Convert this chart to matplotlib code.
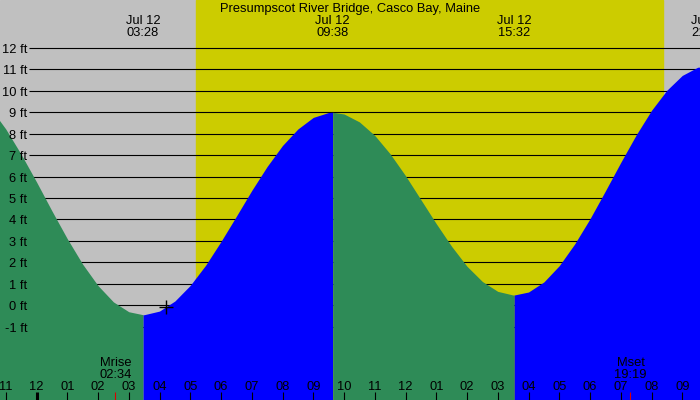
# Tide chart: Presumpscot River Bridge, Casco Bay, Maine - Jul 12
import numpy as np
import matplotlib.pyplot as plt
from matplotlib.transforms import offset_copy

plt.rcParams['font.family'] = ['Liberation Sans', 'DejaVu Sans']

######################  DATA ######################

# hours from midnight Jul 12, tide level (ft) every half hour
hours = [-1.5, -1.0, -0.5, 0.0, 0.5, 1.0, 1.5, 2.0, 2.5, 3.0,
         3.5, 4.0, 4.5, 5.0, 5.5, 6.0, 6.5, 7.0, 7.5, 8.0, 8.5, 9.0, 9.5,
         10.0, 10.5, 11.0, 11.5, 12.0, 12.5, 13.0, 13.5, 14.0, 14.5, 15.0, 15.5,
         16.0, 16.5, 17.0, 17.5, 18.0, 18.5, 19.0, 19.5, 20.0, 20.5, 21.0, 21.5, 22.0]
levels = [9.20, 8.22, 7.04, 5.75, 4.40, 3.10, 1.91, 0.91, 0.15, -0.31,
          -0.45, -0.28, 0.19, 0.92, 1.86, 2.97, 4.15, 5.35, 6.47, 7.45, 8.22, 8.76, 8.99,
          8.92, 8.55, 7.92, 7.06, 6.04, 4.92, 3.80, 2.74, 1.81, 1.10, 0.64, 0.47,
          0.61, 1.08, 1.84, 2.85, 4.03, 5.33, 6.66, 7.94, 9.09, 10.03, 10.72, 11.10, 11.16]

# high / low tides
tide_hours = [3 + 28/60, 9 + 38/60, 15 + 32/60, 21 + 50/60]
tide_levels = [-0.45, 9.0, 0.47, 11.17]
tide_clock = ['03:28', '09:38', '15:32', '21:50']
tide_day = 'Jul 12'

sunrise = 5 + 11/60
sunset = 20 + 22/60

moon_hours = [2 + 34/60, 19 + 19/60]
moon_names = ['Mrise', 'Mset']
moon_clock = ['02:34', '19:19']

now_hour = 4.22

hour_ticks = list(range(-1, 22))
hour_labels = ['11', '12', '01', '02', '03', '04', '05', '06', '07', '08', '09', '10',
               '11', '12', '01', '02', '03', '04', '05', '06', '07', '08', '09']

ft_ticks = list(range(-1, 13))

title = 'Presumpscot River Bridge, Casco Bay, Maine'

######################  PLOT ######################

GRAY = '#c0c0c0'
YELLOW = '#cccc00'
GREEN = '#2e8b57'
BLUE = '#0000ff'
FS = 9.3

x_lo, x_hi = -1.187, 21.577
y_lo, y_hi = -4.43, 14.24

t = np.array(hours + tide_hours[:3])
lv = np.array(levels + tide_levels[:3])
order = np.argsort(t)
t, lv = t[order], lv[order]

fig = plt.figure(figsize=(7, 4), dpi=100)
ax = fig.add_axes([0, 0, 1, 1])
ax.set_facecolor(GRAY)
ax.set_xlim(x_lo, x_hi)
ax.set_ylim(y_lo, y_hi)
ax.axis('off')
ax.add_patch(plt.Rectangle((x_lo, y_lo), x_hi - x_lo, y_hi - y_lo, color=GRAY, zorder=0))
ax.axvspan(sunrise, sunset, color=YELLOW, zorder=1)

# grid lines
ax.hlines(ft_ticks, -0.24, x_hi, color='black', lw=0.8, zorder=2)

# tide fill: green while falling, blue while rising
bounds = [-99] + tide_hours[:3] + [99]
for i in range(len(bounds) - 1):
    sel = (t >= bounds[i]) & (t <= bounds[i + 1])
    col = GREEN if i % 2 == 0 else BLUE
    ax.fill_between(t[sel], lv[sel], y_lo - 1, color=col, lw=0, zorder=3, antialiased=False)

ax.plot(now_hour, np.interp(now_hour, t, lv), marker='+', color='black', ms=10, mew=1, zorder=5)

# text a couple of pixels lower than bbox centre
ytr = offset_copy(ax.get_yaxis_transform(), fig=fig, y=-2, units='dots')
xtr = offset_copy(ax.get_xaxis_transform(), fig=fig, y=-2, units='dots')
atr = offset_copy(ax.transAxes, fig=fig, y=-2, units='dots')
xtr_ticks = ax.get_xaxis_transform()

# y labels
for v in ft_ticks:
    ax.text(0.039, v, f'{v} ft', transform=ytr, ha='right', va='center', fontsize=FS, zorder=6)

# bottom hour ticks
for h, lab in zip(hour_ticks, hour_labels):
    ax.text(h, 0.0375, lab, transform=xtr, ha='center', va='center', fontsize=FS, zorder=6)
    ax.vlines(h, 0, 0.021, transform=xtr_ticks, color='black', lw=2.2 if h == 0 else 0.8, zorder=6)

# moon
for h, name, clock in zip(moon_hours, moon_names, moon_clock):
    ax.text(h, 0.0975, name, transform=xtr, ha='center', va='center', fontsize=FS, zorder=6)
    ax.text(h, 0.0675, clock, transform=xtr, ha='center', va='center', fontsize=FS, zorder=6)
    ax.vlines(h, 0, 0.021, transform=xtr_ticks, color='#dd0000', lw=0.8, zorder=6)

# tide times
for h, clock in zip(tide_hours, tide_clock):
    ax.text(h, 0.9525, tide_day, transform=xtr, ha='center', va='center', fontsize=FS, zorder=6)
    ax.text(h, 0.9225, clock, transform=xtr, ha='center', va='center', fontsize=FS, zorder=6)

ax.text(0.5, 0.982, title, transform=atr, ha='center', va='center', fontsize=FS, zorder=6)

fig.savefig('out.png', dpi=100)
